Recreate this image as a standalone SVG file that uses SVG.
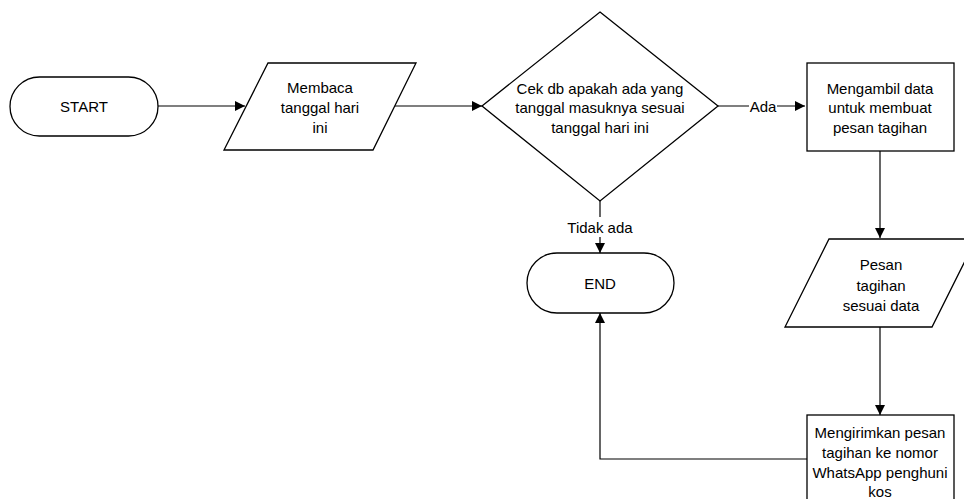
<svg xmlns="http://www.w3.org/2000/svg" width="964" height="499" viewBox="0 0 964 499">
<defs>
<style>
.s{fill:#fff;stroke:#000;stroke-width:1.3}
.c{fill:none;stroke:#000;stroke-width:1.2}
text{font-family:"Liberation Sans",Arial,sans-serif;font-size:15px;fill:#000;text-anchor:middle;dominant-baseline:central}
.lb{fill:#fff;stroke:none}
</style>
<marker id="ah" viewBox="0 0 10 10" refX="10" refY="5" markerWidth="10" markerHeight="10" markerUnits="userSpaceOnUse" orient="auto">
<path d="M0,0 L10,5 L0,10 z" fill="#000"/>
</marker>
</defs>
<g id="connectors">
<path class="c" d="M158,106 H245" marker-end="url(#ah)"/>
<path class="c" d="M395,106 H482" marker-end="url(#ah)"/>
<path class="c" d="M718,106 H805" marker-end="url(#ah)"/>
<rect class="lb" x="749" y="96" width="28" height="20"/>
<text x="763" y="106">Ada</text>
<path class="c" d="M600,201 V253" marker-end="url(#ah)"/>
<rect class="lb" x="566" y="217" width="68" height="20"/>
<text x="600" y="227">Tidak ada</text>
<path class="c" d="M880,151 V238" marker-end="url(#ah)"/>
<path class="c" d="M880,327 V415" marker-end="url(#ah)"/>
<path class="c" d="M807,459 H600 V313" marker-end="url(#ah)"/>
</g>
<g id="start">
<rect class="s" x="10" y="77" width="148" height="59" rx="29.5" ry="29.5"/>
<text x="84" y="106">START</text>
</g>
<g id="membaca">
<polygon class="s" points="268,63 416,63 373,150 224,150"/>
<text x="320" y="87">Membaca</text>
<text x="320" y="107">tanggal hari</text>
<text x="320" y="127">ini</text>
</g>
<g id="cek">
<polygon class="s" points="600,12 718,106 600,201 482,106"/>
<text x="600" y="88">Cek db apakah ada yang</text>
<text x="600" y="107">tanggal masuknya sesuai</text>
<text x="600" y="127">tanggal hari ini</text>
</g>
<g id="mengambil">
<rect class="s" x="807" y="63" width="147" height="88"/>
<text x="880" y="88">Mengambil data</text>
<text x="880" y="107">untuk membuat</text>
<text x="880" y="127">pesan tagihan</text>
</g>
<g id="end">
<rect class="s" x="527" y="253" width="147" height="60" rx="30" ry="30"/>
<text x="600" y="283">END</text>
</g>
<g id="pesan">
<polygon class="s" points="829,239 976,239 932,327 785,327"/>
<text x="881" y="264">Pesan</text>
<text x="881" y="285">tagihan</text>
<text x="881" y="305">sesuai data</text>
</g>
<g id="kirim">
<rect class="s" x="807" y="415" width="147" height="95"/>
<text x="880" y="432">Mengirimkan pesan</text>
<text x="880" y="452">tagihan ke nomor</text>
<text x="880" y="472">WhatsApp penghuni</text>
<text x="880" y="491">kos</text>
</g>
</svg>
